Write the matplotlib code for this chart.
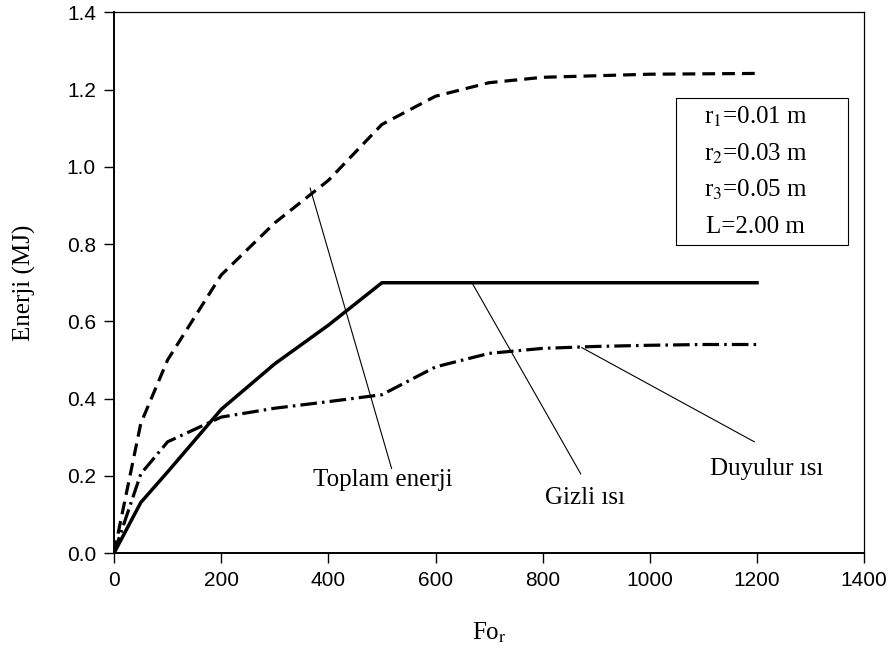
import matplotlib
matplotlib.use("Agg")
import matplotlib.pyplot as plt
from matplotlib.patches import Rectangle

# Data
fo = [0, 50, 100, 200, 300, 400, 500, 600, 700, 800, 900, 1000, 1100, 1200]
toplam = [0.0, 0.336, 0.50, 0.72, 0.855, 0.965, 1.11, 1.183, 1.218, 1.232, 1.236, 1.240, 1.241, 1.242]
gizli = [0.0, 0.131, 0.21, 0.372, 0.49, 0.59, 0.70, 0.70, 0.70, 0.70, 0.70, 0.70, 0.70, 0.70]
duyulur = [0.0, 0.205, 0.288, 0.352, 0.375, 0.392, 0.41, 0.482, 0.517, 0.530, 0.535, 0.538, 0.540, 0.540]

# label text, leader start (on curve), leader end, text anchor
labels = ["Toplam enerji", "Gizli ısı", "Duyulur ısı"]
leader_from = [(366, 0.945), (668, 0.70), (873, 0.532)]
leader_to = [(518, 0.219), (871, 0.205), (1195, 0.288)]
label_pos = [(372, 0.19), (805, 0.142), (1113, 0.217)]

info_lines = [r"r$_\mathrm{1}$=0.01 m", r"r$_\mathrm{2}$=0.03 m",
              r"r$_\mathrm{3}$=0.05 m", "L=2.00 m"]

SERIF = "Liberation Serif"
plt.rcParams['mathtext.fontset'] = 'stix'

fig = plt.figure(figsize=(8.93, 6.54), dpi=100)
ax = fig.add_axes([0.1277, 0.1544, 0.84, 0.8266])

ax.plot(fo, toplam, color='black', lw=2.3, linestyle=(0, (4.0, 2.2)))
ax.plot(fo, gizli, color='black', lw=2.5, linestyle='-')
ax.plot(fo, duyulur, color='black', lw=2.3, linestyle=(0, (5.2, 1.6, 0.8, 1.6)))

for lab, p0, p1, tp in zip(labels, leader_from, leader_to, label_pos):
    ax.plot([p0[0], p1[0]], [p0[1], p1[1]], color='black', lw=0.8)
    ax.text(tp[0], tp[1], lab, family=SERIF, fontsize=18, ha='left', va='center')

# parameter box
ax.add_patch(Rectangle((0.749, 0.570), 0.229, 0.272, transform=ax.transAxes,
                       fill=False, edgecolor='black', lw=0.8))
for k, line in enumerate(info_lines):
    ax.text(0.855, 0.807 - k * 0.068, line, transform=ax.transAxes,
            family=SERIF, fontsize=18, ha='center', va='center')

ax.set_xlim(0, 1400)
ax.set_ylim(0, 1.4)
ax.set_xticks(range(0, 1401, 200))
ax.set_yticks([0.0, 0.2, 0.4, 0.6, 0.8, 1.0, 1.2, 1.4])
ax.set_yticklabels(["%.1f" % v for v in ax.get_yticks()])
ax.tick_params(direction='out', length=7, width=1.0, labelsize=15, pad=6)
for t in ax.get_xticklabels() + ax.get_yticklabels():
    t.set_family("Liberation Sans")
ax.spines['left'].set_linewidth(1.4)
ax.spines['bottom'].set_linewidth(1.4)
ax.spines['top'].set_linewidth(0.9)
ax.spines['right'].set_linewidth(0.9)

ax.set_xlabel(r"Fo$_\mathrm{r}$", family=SERIF, fontsize=18, labelpad=22)
ax.set_ylabel("Enerji (MJ)", family=SERIF, fontsize=18, labelpad=22)

fig.savefig("out.png", dpi=100)
